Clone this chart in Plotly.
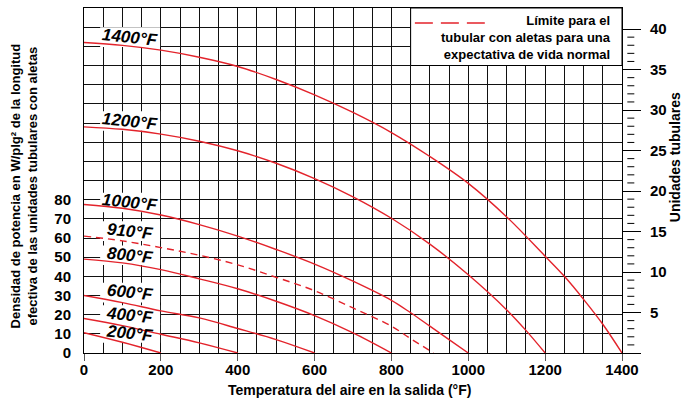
import plotly.graph_objects as go

# ---------------- data ----------------
curve_names = ["1400°F", "1200°F", "1000°F", "910°F", "800°F", "600°F", "400°F", "200°F"]

x_1400 = [0, 100, 200, 300, 400, 500, 600, 700, 800, 900, 1000, 1100, 1200, 1250, 1300, 1350, 1400]
y_1400 = [162, 160.5, 158, 154.3, 149.5, 142.7, 134.7, 125.5, 115, 102.5, 88.5, 71, 50.5, 40, 28, 15, 0]

x_1200 = [0, 100, 200, 300, 400, 500, 600, 700, 800, 900, 1000, 1100, 1150, 1200]
y_1200 = [118, 116.7, 114.2, 110.5, 105.5, 99, 91, 81.5, 70.3, 56.8, 40.8, 22.5, 11.8, 0]

x_1000 = [0, 100, 200, 300, 400, 500, 600, 700, 800, 850, 900, 950, 1000]
y_1000 = [77.5, 75.5, 72, 67, 61, 54, 46.4, 37.5, 27.5, 21, 14, 7, 0]

x_910 = [0, 100, 200, 300, 400, 500, 600, 700, 800, 850, 910]
y_910 = [61, 58.5, 55, 51, 46, 39.5, 32.5, 23.5, 14, 7.5, 0]

x_800 = [0, 100, 200, 300, 400, 500, 600, 700, 800]
y_800 = [49, 47, 43.5, 38.7, 33.5, 27, 19.5, 10.5, 0]

x_600 = [0, 100, 200, 300, 400, 500, 600]
y_600 = [30, 26.3, 22, 18.3, 12.8, 7, 0]

x_400 = [0, 100, 200, 300, 400]
y_400 = [18, 14.3, 9.8, 5.3, 0]

x_200 = [0, 100, 200]
y_200 = [10.6, 5.6, 0]

curves_x = [x_1400, x_1200, x_1000, x_910, x_800, x_600, x_400, x_200]
curves_y = [y_1400, y_1200, y_1000, y_910, y_800, y_600, y_400, y_200]
dashed = [False, False, False, True, False, False, False, False]

x_ticks = [0, 200, 400, 600, 800, 1000, 1200, 1400]
y_left_ticks = [0, 10, 20, 30, 40, 50, 60, 70, 80]
y_right_ticks = [5, 10, 15, 20, 25, 30, 35, 40]

legend_text = "Límite para el<br>tubular con aletas para una<br>expectativa de vida normal"
x_title = "Temperatura del aire en la salida (°F)"
y_title = "Densidad de potencia en W/plg² de la longitud<br>efectiva de las unidades tubulares con aletas"
y2_title = "Unidades tubulares"

# ---------------- layout / style ----------------
FONT = "Liberation Sans, Arial, sans-serif"
RED = "#e3232b"
GRID = "#111111"
label_x = 119
label_y = [164.8, 121, 78.5, 63.6, 51, 31.5, 19.8, 10.4]

fig = go.Figure()
for name, xs, ys, d in zip(curve_names, curves_x, curves_y, dashed):
    fig.add_trace(go.Scatter(
        x=xs, y=ys, mode="lines", name=name, showlegend=False,
        line=dict(color=RED, width=1.4, shape="spline", smoothing=1.0,
                  dash="7px,5px" if d else "solid"),
        hoverinfo="skip"))

# invisible trace to activate the right axis
fig.add_trace(go.Scatter(x=[0], y=[0], yaxis="y2", mode="markers",
                         marker=dict(opacity=0), showlegend=False, hoverinfo="skip"))

all_y = list(range(0, 181, 10))
fig.update_layout(
    width=685, height=405,
    margin=dict(l=84, r=63, t=8, b=52),
    paper_bgcolor="white", plot_bgcolor="white",
    font=dict(family=FONT, size=14, color="black"),
    xaxis=dict(range=[0, 1400], tickvals=x_ticks, ticks="outside", ticklen=7,
               tickcolor="#555", showgrid=True, gridcolor=GRID, gridwidth=1,
               minor=dict(dtick=50, showgrid=True, gridcolor=GRID, gridwidth=1),
               showline=True, linecolor="black", linewidth=1, mirror=True,
               zeroline=False, tickfont=dict(family=FONT, size=15, weight="bold"),
               ticklabelstandoff=-4),
    yaxis=dict(range=[0, 180], tickvals=all_y,
               ticktext=[str(v) if v in y_left_ticks else "" for v in all_y],
               showgrid=True, gridcolor=GRID, gridwidth=1, ticks="",
               showline=True, linecolor="black", linewidth=1, mirror=True,
               zeroline=False, tickfont=dict(family=FONT, size=15, weight="bold"),
               ticklabelstandoff=9),
    yaxis2=dict(range=[0, 42.6], overlaying="y", side="right",
                tickvals=[0] + y_right_ticks, ticktext=[""] + [str(v) for v in y_right_ticks],
                ticks="outside", ticklen=18, tickcolor="black", tickwidth=1,
                showgrid=False, zeroline=False, showline=False,
                tickfont=dict(family=FONT, size=15, weight="bold"),
                ticklabelstandoff=6),
)

shapes = []
# white boxes behind curve labels (hide the grid, not the curves)
for ly in label_y:
    shapes.append(dict(type="rect", xref="x", yref="y", x0=42, x1=198, y0=ly - 5.1, y1=ly + 5.1,
                       fillcolor="white", line=dict(width=0), layer="between"))
# legend box
shapes.append(dict(type="rect", xref="x", yref="y", x0=850, x1=1400, y0=150, y1=180,
                   fillcolor="white", line=dict(color="black", width=1), layer="between"))
shapes.append(dict(type="line", xref="paper", yref="paper", x0=0.615, x1=0.745, y0=0.9565, y1=0.9565,
                   line=dict(color=RED, width=1.5, dash="18px,8px")))
# minor ticks on the right axis
for v in range(1, 40):
    if v % 5:
        shapes.append(dict(type="line", xref="paper", yref="y2", x0=1.0099, x1=1.0229, y0=v, y1=v,
                           line=dict(color="black", width=1)))
fig.update_layout(shapes=shapes)

ann = []
for name, ly in zip(curve_names, label_y):
    ann.append(dict(x=label_x, y=ly, xref="x", yref="y", text=name, showarrow=False,
                    textangle=6, font=dict(family=FONT, size=17, weight="bold", style="italic")))
ann.append(dict(x=0.9826, y=0.99, xref="paper", yref="paper", text=legend_text, showarrow=False,
                xanchor="right", yanchor="top", align="right",
                font=dict(family=FONT, size=13, weight="bold")))
ann.append(dict(x=0.494, y=-0.108, xref="paper", yref="paper", text=x_title, showarrow=False,
                xanchor="center", yanchor="middle", font=dict(family=FONT, size=14, weight="bold")))
ann.append(dict(x=-0.1115, y=0.483, xref="paper", yref="paper", text=y_title, showarrow=False,
                textangle=-90, xanchor="center", yanchor="middle",
                font=dict(family=FONT, size=13, weight="bold")))
ann.append(dict(x=1.1, y=0.567, xref="paper", yref="paper", text=y2_title, showarrow=False,
                textangle=-90, xanchor="center", yanchor="middle",
                font=dict(family=FONT, size=14, weight="bold")))
fig.update_layout(annotations=ann)

fig.write_html("out.html")
